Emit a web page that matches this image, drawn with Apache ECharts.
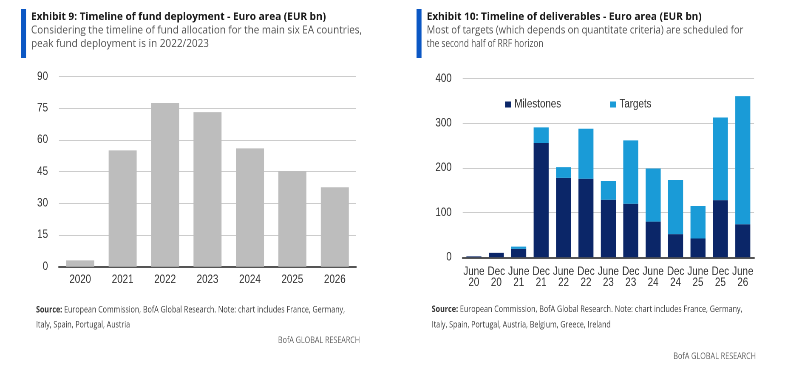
<!DOCTYPE html>
<html><head><meta charset="utf-8">
<script src="https://cdn.jsdelivr.net/npm/echarts@6/dist/echarts.min.js"></script>
<style>
html,body{margin:0;padding:0;background:#fff;overflow:hidden;width:805px;height:373px}
#c{width:947px;height:373px;transform:scaleX(0.85);transform-origin:0 0}
</style>
</head><body><div id="c"></div>
<script>
// ---- data ----
const years = ['2020','2021','2022','2023','2024','2025','2026'];
const fundDeployment = [3.0, 55.1, 77.5, 73.2, 56.0, 45.3, 37.6];
const leftTicks = [0, 15, 30, 45, 60, 75, 90];

const periods = ['June\n20','Dec\n20','June\n21','Dec\n21','June\n22','Dec\n22','June\n23','Dec\n23','June\n24','Dec\n24','June\n25','Dec\n25','June\n26'];
const milestones = [2, 10, 19, 256, 178, 176, 129, 120, 80, 52, 42, 128, 74];
const targets =    [0, 0, 5, 35, 24, 112, 42, 142, 119, 121, 73, 185, 287];
const rightTicks = [0, 100, 200, 300, 400];

// ---- layout: the page is horizontally condensed by S (like the reference) ----
const S = 0.85;
const X = px => px / S;

const ctx = document.createElement('canvas').getContext('2d');
function w(text, font){ ctx.font = font; return ctx.measureText(text).width; }

const SANS = '"Open Sans"';
const fTitle = 'bold 11px ' + SANS, fSub = '11px ' + SANS, fSrcB = 'bold 9px ' + SANS, fSrc = '9px ' + SANS;
const gfx = [];
function line(text, font, fill, x, top, width){
  const s = X(width) / w(text, font);
  gfx.push({type:'text', x:X(x), y:top, scaleX:s, style:{text:text, font:font, fill:fill, align:'left', verticalAlign:'top'}});
}
function lineRight(text, font, fill, xr, top, width){
  line(text, font, fill, xr - width, top, width);
}
function srcLine(rest, x, top, width){
  const tb = 'Source:', tr = ' ' + rest;
  const s = X(width) / (w(tb, fSrcB) + w(tr, fSrc));
  gfx.push({type:'text', x:X(x), y:top, scaleX:s, style:{text:tb, font:fSrcB, fill:'#333', align:'left', verticalAlign:'top'}});
  gfx.push({type:'text', x:X(x) + w(tb, fSrcB)*s, y:top, scaleX:s, style:{text:tr, font:fSrc, fill:'#444', align:'left', verticalAlign:'top'}});
}
gfx.push({type:'rect', shape:{x:X(21), y:9, width:X(5), height:49}, style:{fill:'#0b57c4'}});
gfx.push({type:'rect', shape:{x:X(416.5), y:9, width:X(5), height:49}, style:{fill:'#0b57c4'}});
line('Exhibit 9: Timeline of fund deployment - Euro area (EUR bn)', fTitle, '#1a1a1a', 31, 11.5, 295);
line('Considering the timeline of fund allocation for the main six EA countries,', fSub, '#555', 31, 25, 331);
line('peak fund deployment is in 2022/2023', fSub, '#555', 31, 38.5, 178);
line('Exhibit 10: Timeline of deliverables - Euro area (EUR bn)', fTitle, '#1a1a1a', 426.7, 11.5, 275);
line('Most of targets (which depends on quantitate criteria) are scheduled for', fSub, '#555', 426.7, 25, 316.7);
line('the second half of RRF horizon', fSub, '#555', 426.7, 38.5, 116.7);
srcLine('European Commission, BofA Global Research. Note: chart includes France, Germany,', 36, 305.5, 309);
line('Italy, Spain, Portugal, Austria', fSrc, '#444', 36, 320.5, 94);
lineRight('BofA GLOBAL RESEARCH', fSrc, '#666', 360, 336, 82);
srcLine('European Commission, BofA Global Research. Note: chart includes France, Germany,', 431.7, 305, 310.7);
line('Italy, Spain, Portugal, Austria, Belgium, Greece, Ireland', fSrc, '#444', 431.7, 320.5, 179);
lineRight('BofA GLOBAL RESEARCH', fSrc, '#666', 756, 352, 82.7);

const LBL = {fontFamily:'"Liberation Sans", Arial, sans-serif', fontSize:11.5, color:'#333'};
const LEG = {fontFamily:'"Liberation Sans", Arial, sans-serif', fontSize:11.5, color:'#333', padding:[0,0,0,-1]};

const chart = echarts.init(document.getElementById('c'), null, {renderer:'canvas', devicePixelRatio:2});
chart.setOption({
  animation:false,
  backgroundColor:'#fff',
  graphic: gfx,
  legend:[
    {left:X(505), top:98.5, itemWidth:X(6), itemHeight:6, icon:'rect', data:['Milestones'], textStyle:LEG, padding:0},
    {left:X(610), top:98.5, itemWidth:X(6), itemHeight:6, icon:'rect', data:['Targets'], textStyle:LEG, padding:0}
  ],
  grid:[
    {left:X(59), top:76.6, width:X(297), height:190.1},
    {left:X(462.7), top:78.7, width:X(291.3), height:178.6}
  ],
  xAxis:[
    {type:'category', gridIndex:0, data:years, axisTick:{show:false},
     axisLine:{lineStyle:{color:'#555', width:2}}, axisLabel:Object.assign({margin:7}, LBL)},
    {type:'category', gridIndex:1, data:periods, axisTick:{show:false},
     axisLine:{lineStyle:{color:'#555', width:2}}, axisLabel:Object.assign({margin:9, lineHeight:11, interval:0}, LBL)}
  ],
  yAxis:[
    {type:'value', gridIndex:0, min:leftTicks[0], max:leftTicks[leftTicks.length-1], interval:15,
     axisLine:{show:false}, axisTick:{show:false}, axisLabel:Object.assign({margin:X(11)}, LBL),
     splitLine:{lineStyle:{color:'#cccccc', width:1}}},
    {type:'value', gridIndex:1, min:rightTicks[0], max:rightTicks[rightTicks.length-1], interval:100,
     axisLine:{show:false}, axisTick:{show:false}, axisLabel:Object.assign({margin:X(11)}, LBL),
     splitLine:{lineStyle:{color:'#cccccc', width:1}}}
  ],
  series:[
    {type:'bar', xAxisIndex:0, yAxisIndex:0, data:fundDeployment, barCategoryGap:'34%', itemStyle:{color:'#bdbdbd'}},
    {name:'Milestones', type:'bar', stack:'d', xAxisIndex:1, yAxisIndex:1, data:milestones, barCategoryGap:'33%', itemStyle:{color:'#0b2668'}},
    {name:'Targets', type:'bar', stack:'d', xAxisIndex:1, yAxisIndex:1, data:targets, barCategoryGap:'33%', itemStyle:{color:'#1a9bd7'}}
  ]
});
</script></body></html>
